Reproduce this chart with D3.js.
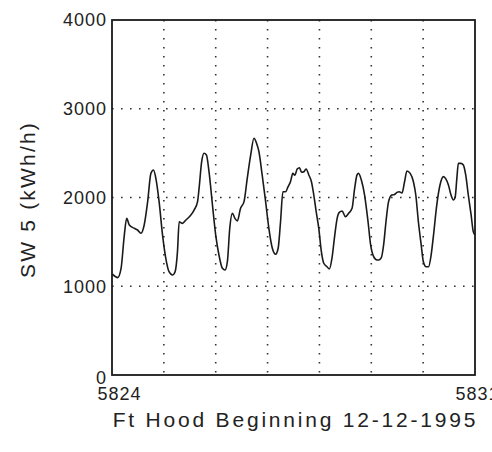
<!DOCTYPE html>
<html>
<head>
<meta charset="utf-8">
<script src="https://cdn.jsdelivr.net/npm/d3@7"></script>
<style>
  body { margin: 0; background: #fff; }
  #chart { width: 492px; height: 452px; }
</style>
</head>
<body>
<div id="chart"></div>
<script>

// hours after start of day 5824
var hours = [0, 1.5, 2.6, 4.2, 5.7, 6.8, 8.0, 10.3, 11.8, 13.4, 14.9, 16.5, 18.0, 19.2, 20.3,
  21.8, 23.4, 24.9, 26.4, 28.0, 29.2, 30.3, 31.1, 32.6, 34.2, 36.5, 38.0, 39.6,
  40.3, 41.5, 42.6, 43.7, 44.9, 46.5, 48.0, 49.5, 51.1, 52.3, 53.4, 54.5, 55.7, 56.9,
  58.0, 59.5, 61.1, 62.6, 64.2, 65.7, 66.9, 68.0, 69.5, 71.1, 72.6, 74.2, 75.7, 76.9,
  78.0, 79.1, 80.3, 81.5, 82.6, 83.7, 84.6, 85.7, 86.8, 87.7, 88.8, 89.8, 91.1, 92.3,
  93.4, 94.5, 95.7, 96.9, 98.0, 99.5, 100.6, 101.8, 103.1, 104.2, 105.2, 106.5, 108.0,
  109.5, 111.1, 112.3, 113.4, 114.1, 115.4, 116.9, 118.5, 119.7, 121.1, 122.6, 123.4,
  124.6, 125.7, 126.8, 128.0, 129.5, 130.8, 131.9, 132.9, 134.2, 135.4, 136.5, 138.0,
  139.5, 140.6, 141.8, 143.1, 144.1, 145.4, 146.5, 147.7, 148.8, 150.3, 151.8, 153.4,
  154.5, 155.7, 156.9, 158.0, 158.8, 159.6, 160.3, 161.5, 162.6, 163.7, 164.9, 166.2,
  167.2, 168];

var load = [1140, 1110, 1097, 1202, 1577, 1765, 1690, 1653, 1634, 1597, 1690, 1953, 2272, 2310, 2216,
  1953, 1577, 1315, 1164, 1127, 1164, 1390, 1727, 1709, 1746, 1803, 1859, 1953,
  2103, 2403, 2498, 2479, 2291, 1915, 1577, 1352, 1202, 1183, 1277, 1653, 1822, 1765,
  1735, 1878, 1953, 2216, 2479, 2667, 2611, 2516, 2254, 1953, 1653, 1428, 1360, 1428,
  1727, 2065, 2065, 2122, 2178, 2272, 2250, 2321, 2336, 2284, 2290, 2321, 2254, 2178,
  2028, 1840, 1653, 1390, 1259, 1220, 1194, 1315, 1577, 1765, 1833, 1848, 1784,
  1822, 1878, 2103, 2254, 2272, 2197, 2028, 1727, 1465, 1333, 1296, 1296,
  1320, 1465, 1727, 1953, 2028, 2035, 2058, 2065, 2050, 2178, 2299, 2272,
  2178, 2028, 1727, 1465, 1277, 1220, 1220, 1352, 1577, 1915, 2141, 2235,
  2210, 2141, 2028, 1972, 2000, 2216, 2385, 2385, 2366, 2254, 2028, 1803,
  1615, 1577];

var startDay = 5824,
    endDay = 5831,
    yTicks = [0, 1000, 2000, 3000, 4000],
    gridY = [1000, 2000, 3000],
    gridX = [5825, 5826, 5827, 5828, 5829, 5830];

var margin = {top: 20, right: 17, bottom: 77, left: 112},
    width = 492 - margin.left - margin.right,
    height = 452 - margin.top - margin.bottom;

var svg = d3.select("#chart").append("svg")
    .attr("width", width + margin.left + margin.right)
    .attr("height", height + margin.top + margin.bottom)
  .append("g")
    .attr("transform", "translate(" + margin.left + "," + margin.top + ")");

var x = d3.scaleLinear().domain([startDay, endDay]).range([0, width]),
    y = d3.scaleLinear().domain([0, 4000]).range([height, 0]);

var data = hours.map(function(h, i) { return {day: startDay + h / 24, v: load[i]}; });

// dotted grid
svg.selectAll(".gy")
  .data(gridY)
  .enter().append("line")
    .attr("class", "gy")
    .attr("x1", 0).attr("x2", width)
    .attr("y1", function(d) { return y(d); })
    .attr("y2", function(d) { return y(d); })
    .attr("stroke", "#333")
    .attr("stroke-width", 1.6)
    .attr("stroke-dasharray", "1.6,7.4");

svg.selectAll(".gx")
  .data(gridX)
  .enter().append("line")
    .attr("class", "gx")
    .attr("y1", 0).attr("y2", height)
    .attr("x1", function(d) { return x(d); })
    .attr("x2", function(d) { return x(d); })
    .attr("stroke", "#333")
    .attr("stroke-width", 1.6)
    .attr("stroke-dasharray", "1.6,7.4");

// load curve
var line = d3.line()
    .x(function(d) { return x(d.day); })
    .y(function(d) { return y(d.v); })
    .curve(d3.curveMonotoneX);

svg.append("path")
    .datum(data)
    .attr("fill", "none")
    .attr("stroke", "#1a1a1a")
    .attr("stroke-width", 1.6)
    .attr("stroke-linejoin", "round")
    .attr("d", line);

// frame
svg.append("rect")
    .attr("width", width)
    .attr("height", height)
    .attr("fill", "none")
    .attr("stroke", "#1a1a1a")
    .attr("stroke-width", 1.8);

var yAxis = svg.append("g")
    .attr("class", "y-axis")
    .style("font-family", "Liberation Sans, Arial, sans-serif")
    .style("font-size", "18px")
    .style("letter-spacing", "1px")
    .style("color", "#222")
    .call(d3.axisLeft(y).tickValues(yTicks).tickFormat(d3.format("d")).tickSize(0).tickPadding(5));
yAxis.select(".domain").remove();
// the zero sits a touch low in the original
yAxis.selectAll("text")
    .attr("dy", function(d) { return d == 0 ? "0.45em" : "0.32em"; });

var xAxis = svg.append("g")
    .attr("class", "x-axis")
    .attr("transform", "translate(0," + height + ")")
    .style("font-family", "Liberation Sans, Arial, sans-serif")
    .style("font-size", "18px")
    .style("letter-spacing", "1px")
    .style("color", "#222")
    .call(d3.axisBottom(x).tickValues([startDay, endDay]).tickFormat(d3.format("d")).tickSize(0).tickPadding(12));
xAxis.select(".domain").remove();
xAxis.selectAll("text")
    .attr("text-anchor", "start")
    .attr("dx", function(d, i) { return i == 0 ? -15 : -20; });

svg.append("text")
    .attr("transform", "translate(-77," + (height / 2 + 2) + ") rotate(-90)")
    .attr("text-anchor", "middle")
    .attr("font-family", "Liberation Sans, Arial, sans-serif")
    .attr("font-size", "21px")
    .style("letter-spacing", "2.2px")
    .attr("fill", "#222")
    .text("SW 5 (kWh/h)");

svg.append("text")
    .attr("x", width / 2 + 2)
    .attr("y", height + 52)
    .attr("text-anchor", "middle")
    .attr("font-family", "Liberation Sans, Arial, sans-serif")
    .attr("font-size", "21px")
    .style("letter-spacing", "2.8px")
    .attr("fill", "#222")
    .text("Ft Hood Beginning 12-12-1995");

</script>
</body>
</html>
